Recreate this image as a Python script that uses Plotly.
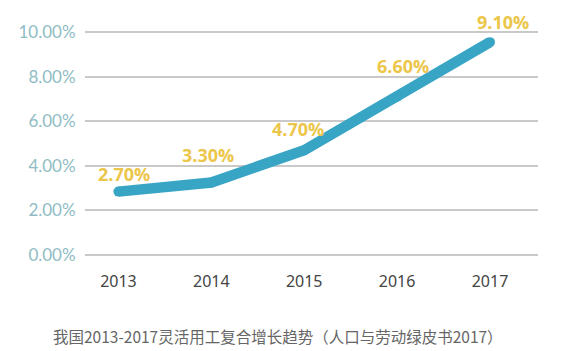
import plotly.graph_objects as go

years = [2013, 2014, 2015, 2016, 2017]
line_values = [2.84, 3.25, 4.7, 7.1, 9.55]
label_texts = ["2.70%", "3.30%", "4.70%", "6.60%", "9.10%"]
y_ticks = [0, 2, 4, 6, 8, 10]
y_tick_text = ["0.00%", "2.00%", "4.00%", "6.00%", "8.00%", "10.00%"]
caption = "我国2013-2017灵活用工复合增长趋势（人口与劳动绿皮书2017）"

label_yshift = [18, 27, 21, 31, 20]
label_xshift = [6, -3, -6, 6, 13]

fig = go.Figure()
fig.add_trace(go.Scatter(
    x=years, y=line_values, mode="lines+markers",
    line=dict(color="#38a5c5", width=10.5),
    marker=dict(color="#38a5c5", size=10, line=dict(width=0)),
    hoverinfo="skip", showlegend=False,
))

for x, y, t, dy, dx in zip(years, line_values, label_texts, label_yshift, label_xshift):
    fig.add_annotation(
        x=x, y=y, text="<b>" + t + "</b>", showarrow=False,
        yshift=dy, xshift=dx,
        font=dict(family="Open Sans", size=18, color="#ecc64a"),
    )

fig.add_annotation(
    x=0.426, y=-0.356, xref="paper", yref="paper", yanchor="middle",
    xanchor="center", text=caption, showarrow=False,
    font=dict(family="Noto Sans CJK SC", size=15.5, color="#666666"),
)

fig.update_layout(
    width=566, height=351,
    margin=dict(l=85, r=28, t=31, b=95),
    paper_bgcolor="white", plot_bgcolor="white",
    xaxis=dict(
        range=[2012.640, 2017.517], tickmode="array", tickvals=years,
        ticktext=[str(y) for y in years], showgrid=False, zeroline=False,
        showline=False, ticks="outside", ticklen=11, tickcolor="rgba(0,0,0,0)",
        tickfont=dict(family="Noto Sans", size=16, color="#444444"),
    ),
    yaxis=dict(
        range=[-0.05, 10.05], tickmode="array", tickvals=y_ticks,
        ticktext=y_tick_text, showgrid=True, gridcolor="#c9c9c9", gridwidth=1.5,
        zeroline=False, showline=False, ticks="outside", ticklen=5,
        tickcolor="rgba(0,0,0,0)",
        tickfont=dict(family="Lato", size=17, color="#8fbcc4"),
    ),
)

fig.write_html("out.html")
